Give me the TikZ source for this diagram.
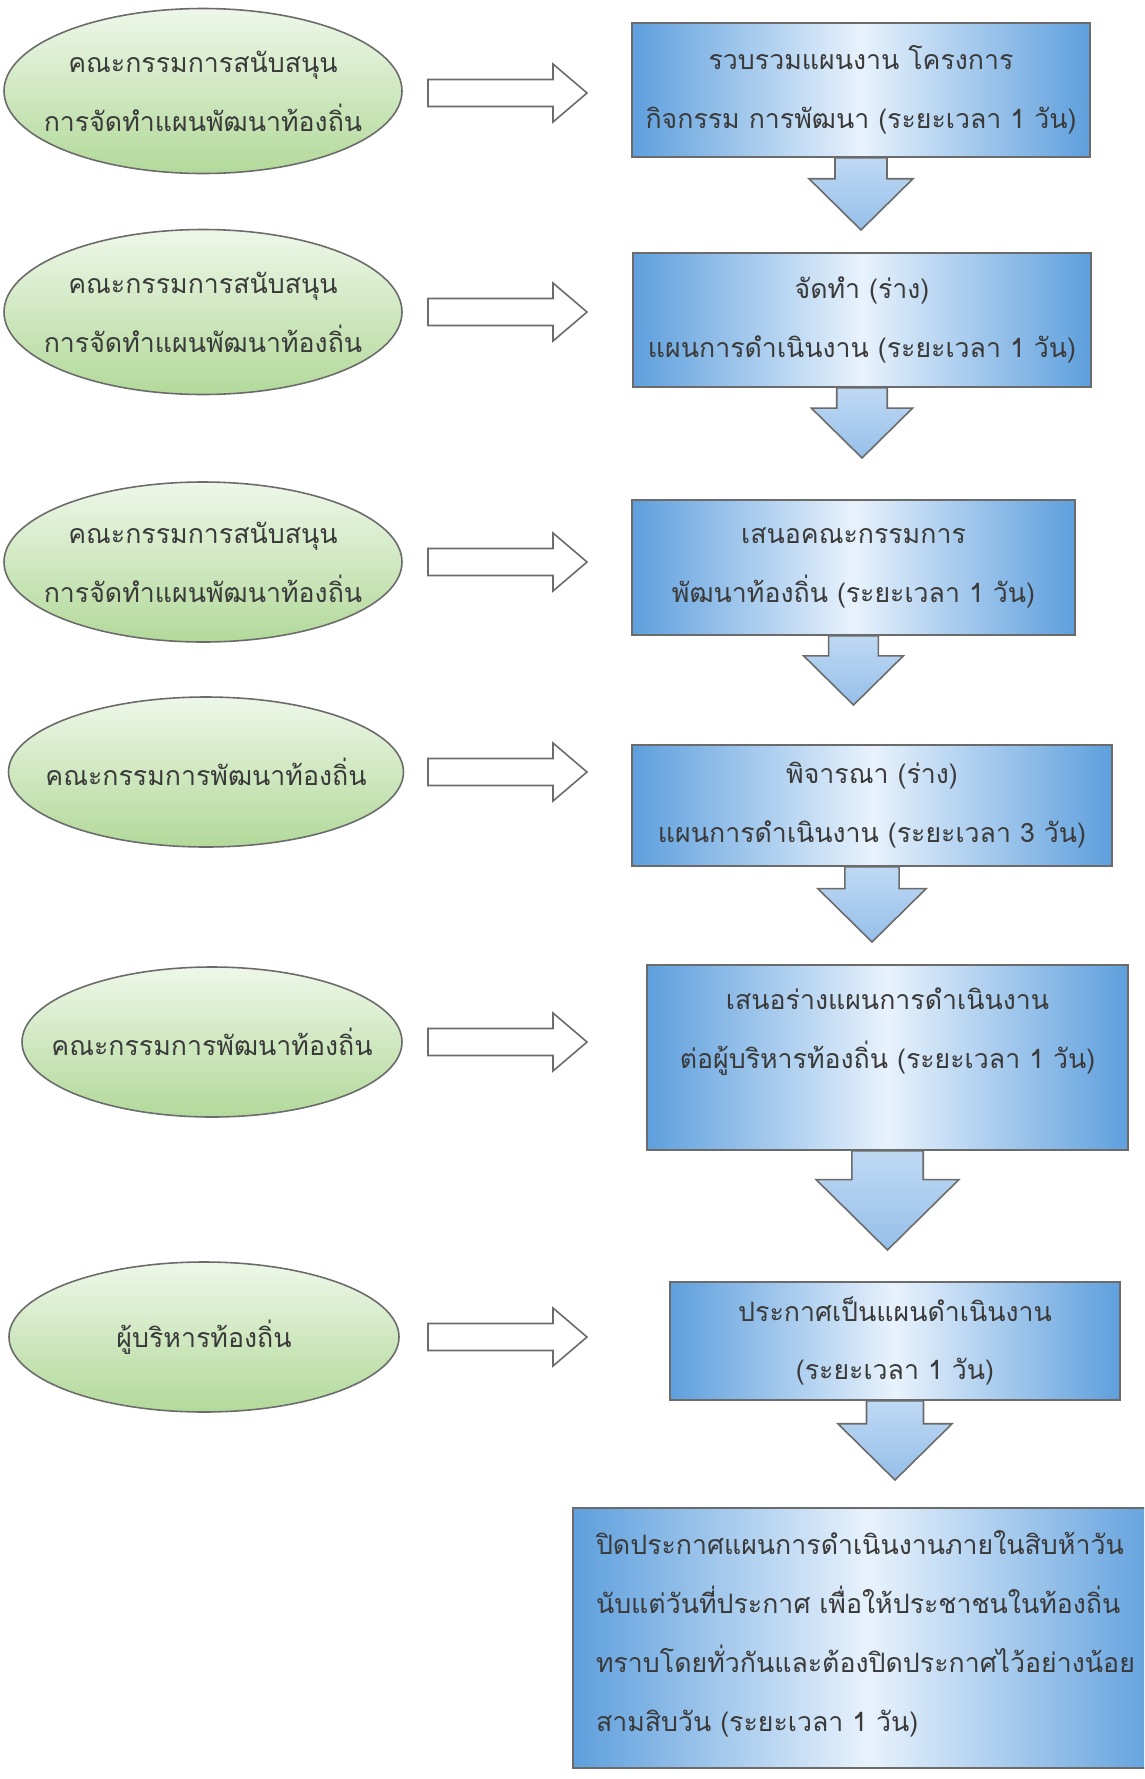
\documentclass[tikz,border=0pt]{standalone}
\usepackage{fontspec}
\newfontfamily\thaifont[Script=Thai]{Loma}
\usetikzlibrary{shapes.geometric, calc}

\definecolor{edgegray}{HTML}{6B6B6B}
\definecolor{inkgray}{HTML}{3A3A3A}
\definecolor{greentop}{HTML}{EEF7E8}
\definecolor{greenbot}{HTML}{B2D99A}
\definecolor{boxblue}{HTML}{5E9FDD}
\definecolor{boxlight}{HTML}{E8F2FC}
\definecolor{arrowtop}{HTML}{BFD9F4}
\definecolor{arrowbot}{HTML}{96BFE9}

\tikzset{
  committee/.style={ellipse, draw=edgegray, line width=0.9pt, top color=greentop, bottom color=greenbot,
    inner xsep=-0.6cm, inner ysep=0pt, align=center, text=inkgray, font=\thaifont\fontsize{15.2}{33.5}\selectfont},
  stepbox/.style={rectangle, draw=edgegray, line width=0.9pt, left color=boxblue, right color=boxblue,
    middle color=boxlight, align=center, text=inkgray, font=\thaifont\fontsize{15.2}{33.5}\selectfont},
  hollow/.style={draw=edgegray, line width=0.9pt, fill=white},
  downarrow/.style={draw=edgegray, line width=0.9pt, top color=arrowtop, bottom color=arrowbot}
}

% open arrow: #1 start, #2 tip
\newcommand{\rightblock}[2]{%
  \draw[hollow] let \p1=(#1), \p2=(#2) in
    (\x1,\y2+0.27cm) -- (\x2-0.68cm,\y2+0.27cm) -- (\x2-0.68cm,\y2+0.58cm) -- (\x2,\y2)
    -- (\x2-0.68cm,\y2-0.58cm) -- (\x2-0.68cm,\y2-0.27cm) -- (\x1,\y2-0.27cm) -- cycle;}

% block arrow down: #1 box bottom, #2 tip
\newcommand{\downblock}[2]{%
  \draw[downarrow] let \p1=(#1), \p2=(#2), \n1={\y1-\y2} in
    (\x2-0.36*\n1,\y1) -- (\x2-0.36*\n1,\y1-0.29*\n1) -- (\x2-0.72*\n1,\y1-0.29*\n1) -- (\x2,\y2)
    -- (\x2+0.72*\n1,\y1-0.29*\n1) -- (\x2+0.36*\n1,\y1-0.29*\n1) -- (\x2+0.36*\n1,\y1) -- cycle;}

\begin{document}
\begin{tikzpicture}[y=-1cm]
\clip (0,0) rectangle (22.88,35.58);
\fill[white] (0,0) rectangle (22.88,35.58);

% committees
\node[committee, minimum width=7.96cm, minimum height=3.3cm] (e1) at (4.06,1.82) {คณะกรรมการสนับสนุน\\การจัดทำแผนพัฒนาท้องถิ่น};
\node[committee, minimum width=7.96cm, minimum height=3.3cm] (e2) at (4.06,6.24) {คณะกรรมการสนับสนุน\\การจัดทำแผนพัฒนาท้องถิ่น};
\node[committee, minimum width=7.96cm, minimum height=3.2cm] (e3) at (4.06,11.24) {คณะกรรมการสนับสนุน\\การจัดทำแผนพัฒนาท้องถิ่น};
\node[committee, minimum width=7.9cm, minimum height=3.0cm] (e4) at (4.12,15.44) {คณะกรรมการพัฒนาท้องถิ่น};
\node[committee, minimum width=7.6cm, minimum height=3.0cm] (e5) at (4.24,20.84) {คณะกรรมการพัฒนาท้องถิ่น};
\node[committee, minimum width=7.8cm, minimum height=3.0cm] (e6) at (4.08,26.74) {ผู้บริหารท้องถิ่น};

% steps
\node[stepbox, minimum width=9.16cm, minimum height=2.68cm] (b1) at (17.22,1.8) {รวบรวมแผนงาน โครงการ\\กิจกรรม การพัฒนา (ระยะเวลา 1 วัน)};
\node[stepbox, minimum width=9.16cm, minimum height=2.68cm] (b2) at (17.24,6.4) {จัดทำ (ร่าง)\\แผนการดำเนินงาน (ระยะเวลา 1 วัน)};
\node[stepbox, minimum width=8.86cm, minimum height=2.7cm] (b3) at (17.07,11.35) {เสนอคณะกรรมการ\\พัฒนาท้องถิ่น (ระยะเวลา 1 วัน)};
\node[stepbox, minimum width=9.6cm, minimum height=2.42cm] (b4) at (17.44,16.11) {พิจารณา (ร่าง)\\แผนการดำเนินงาน (ระยะเวลา 3 วัน)};
\node[stepbox, minimum width=9.62cm, minimum height=3.7cm] (b5) at (17.75,21.15) {เสนอร่างแผนการดำเนินงาน\\ต่อผู้บริหารท้องถิ่น (ระยะเวลา 1 วัน)\\\mbox{}};
\node[stepbox, minimum width=9.0cm, minimum height=2.36cm] (b6) at (17.9,26.82) {ประกาศเป็นแผนดำเนินงาน\\(ระยะเวลา 1 วัน)};
\node[stepbox, align=left, text width=10.9cm, minimum width=11.82cm, minimum height=5.2cm] (b7) at (17.37,32.76)
  {ปิดประกาศแผนการดำเนินงานภายในสิบห้าวัน\\นับแต่วันที่ประกาศ เพื่อให้ประชาชนในท้องถิ่น\\ทราบโดยทั่วกันและต้องปิดประกาศไว้อย่างน้อย\\สามสิบวัน (ระยะเวลา 1 วัน)\\[-0.9cm]\mbox{}};

% open arrows
\coordinate (hs1) at (8.56,1.86);
\coordinate (ht1) at (11.74,1.86);
\coordinate (hs2) at (8.56,6.24);
\coordinate (ht2) at (11.74,6.24);
\coordinate (hs3) at (8.56,11.24);
\coordinate (ht3) at (11.74,11.24);
\coordinate (hs4) at (8.56,15.44);
\coordinate (ht4) at (11.74,15.44);
\coordinate (hs5) at (8.56,20.84);
\coordinate (ht5) at (11.74,20.84);
\coordinate (hs6) at (8.56,26.74);
\coordinate (ht6) at (11.74,26.74);
\rightblock{hs1}{ht1}
\rightblock{hs2}{ht2}
\rightblock{hs3}{ht3}
\rightblock{hs4}{ht4}
\rightblock{hs5}{ht5}
\rightblock{hs6}{ht6}

% down arrows
\coordinate (d1) at (17.22,4.6);
\coordinate (d2) at (17.24,9.16);
\coordinate (d3) at (17.07,14.1);
\coordinate (d4) at (17.44,18.84);
\coordinate (d5) at (17.75,25.0);
\coordinate (d6) at (17.9,29.6);
\downblock{b1.south}{d1}
\downblock{b2.south}{d2}
\downblock{b3.south}{d3}
\downblock{b4.south}{d4}
\downblock{b5.south}{d5}
\downblock{b6.south}{d6}

\end{tikzpicture}
\end{document}
